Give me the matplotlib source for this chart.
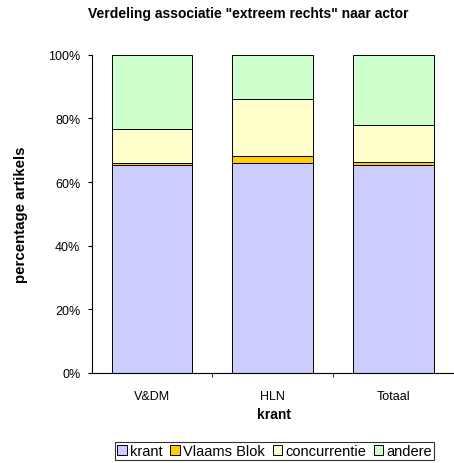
import numpy as np
import matplotlib.pyplot as plt
from matplotlib.ticker import FuncFormatter
import matplotlib
matplotlib.rcParams['font.family'] = ['Liberation Sans', 'DejaVu Sans']

# data (percentages per krant)
kranten = ['V&DM', 'HLN', 'Totaal']
series = ['krant', 'Vlaams Blok', 'concurrentie', 'andere']
krant = [65.5, 65.9, 65.5]
vlaams_blok = [0.6, 2.2, 0.7]
concurrentie = [10.5, 18.0, 11.6]
andere = [23.4, 13.9, 22.2]
kleuren = ['#CCCCFF', '#FFCC00', '#FFFFCC', '#CCFFCC']

fig = plt.figure(figsize=(4.54, 4.64), dpi=100)
ax = fig.add_axes([91.5 / 454, 1 - 374 / 464, 362.5 / 454, 318.3 / 464])

x = np.arange(len(kranten))
bottom = np.zeros(len(kranten))
for naam, waarden, kleur in zip(series, [krant, vlaams_blok, concurrentie, andere], kleuren):
    ax.bar(x, waarden, bottom=bottom, width=0.667, color=kleur,
           edgecolor='black', linewidth=0.7, label=naam)
    bottom += np.array(waarden)

ax.set_xlim(-0.5, len(kranten) - 0.5)
ax.set_ylim(0, 100)
ax.set_yticks(np.arange(0, 101, 20))
ax.yaxis.set_major_formatter(FuncFormatter(lambda v, p: '%d%%' % v))
ax.set_xticks(x)
ax.set_xticklabels(kranten)
ax.tick_params(axis='x', length=0, labelsize=9, pad=12)
ax.set_xticks([0.5, 1.5], minor=True)
ax.tick_params(axis='x', which='minor', length=3, direction='out')
ax.tick_params(axis='y', length=3, labelsize=9, pad=5)
ax.spines['top'].set_visible(False)
ax.spines['right'].set_visible(False)

ax.set_xlabel('krant', fontsize=10, fontweight='bold')
ax.xaxis.set_label_coords(0.503, -0.107)
ax.set_ylabel('percentage artikels', fontsize=10.8, fontweight='bold')
ax.yaxis.set_label_coords(-0.175, 0.5)
fig.text(0.546, 1 - 14 / 464, 'Verdeling associatie "extreem rechts" naar actor',
         ha='center', va='center', fontsize=10, fontweight='bold')

leg = fig.legend(loc='lower center', bbox_to_anchor=(0.605, 0.006), ncol=4, fontsize=10.5,
                 frameon=True, fancybox=False, edgecolor='black', handlelength=0.65,
                 handleheight=0.65, handletextpad=0.2, columnspacing=0.55,
                 borderpad=0.15, borderaxespad=0)
leg.get_frame().set_linewidth(0.8)

fig.savefig('out.png', dpi=100)
